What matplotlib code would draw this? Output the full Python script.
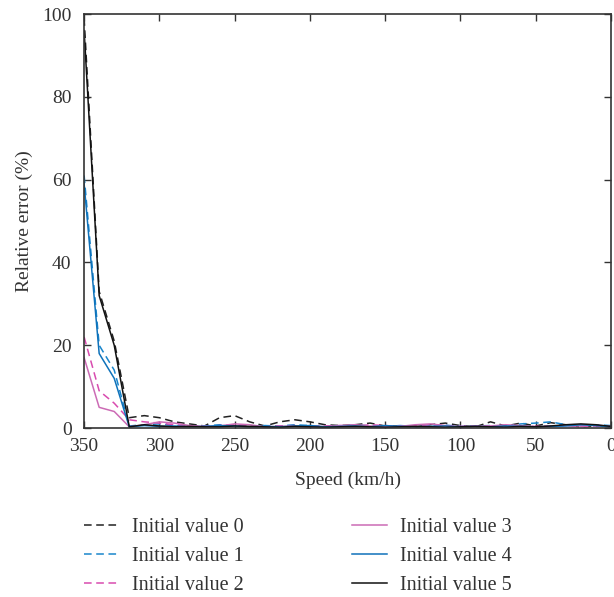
import numpy as np
import matplotlib.pyplot as plt

plt.rcParams['font.family'] = ['Liberation Serif', 'DejaVu Serif']

speed = np.arange(350, -1, -10)

err_v0 = [99, 33, 21, 2.5, 3.0, 2.5, 1.5, 1.0, 0.5, 2.5, 3.0, 1.5, 0.5, 1.5, 2.0, 1.5,
          0.8, 0.6, 0.8, 1.2, 0.5, 0.5, 0.3, 0.8, 1.2, 0.6, 0.3, 1.5, 0.5, 1.2, 0.5,
          1.3, 0.8, 0.3, 0.5, 0.3]
err_v1 = [61, 20, 14, 0.5, 0.8, 1.0, 0.6, 0.4, 0.5, 0.8, 0.5, 0.4, 0.6, 0.5, 0.8, 0.6,
          0.4, 0.5, 0.8, 0.5, 0.4, 0.6, 0.4, 0.5, 0.7, 0.4, 0.5, 0.6, 0.4, 1.0, 1.2,
          1.5, 0.8, 0.5, 0.8, 0.6]
err_v2 = [22, 9, 6, 2.0, 1.5, 1.2, 0.8, 0.5, 0.4, 0.6, 0.8, 0.5, 0.3, 0.5, 0.6, 0.4,
          0.5, 0.6, 0.4, 0.8, 0.6, 0.4, 0.5, 0.8, 0.6, 0.4, 0.5, 0.4, 0.3, 0.5, 0.4,
          0.5, 0.6, 0.4, 0.5, 0.3]
err_v3 = [17, 5, 4, 0.3, 0.8, 1.5, 1.2, 0.6, 0.4, 0.5, 1.0, 0.8, 0.3, 0.4, 0.5, 0.3,
          0.4, 0.6, 0.8, 0.5, 0.3, 0.4, 0.8, 1.0, 0.6, 0.3, 0.4, 0.5, 0.8, 0.6, 0.3,
          0.4, 0.6, 0.5, 0.7, 0.4]
err_v4 = [59, 18, 12, 0.3, 0.6, 0.4, 0.5, 0.3, 0.4, 0.6, 0.5, 0.3, 0.4, 0.3, 0.5, 0.6,
          0.3, 0.4, 0.5, 0.3, 0.6, 0.4, 0.3, 0.4, 0.5, 0.3, 0.4, 0.3, 0.5, 0.4, 0.3,
          0.4, 0.5, 0.8, 0.6, 0.3]
err_v5 = [96, 32, 20, 0.3, 0.8, 0.5, 0.3, 0.4, 0.3, 0.3, 0.5, 0.4, 0.3, 0.2, 0.4, 0.3,
          0.2, 0.3, 0.4, 0.3, 0.2, 0.3, 0.4, 0.3, 0.2, 0.3, 0.4, 0.3, 0.2, 0.4, 0.3,
          0.5, 0.8, 1.0, 0.8, 0.4]

series = [
    ('Initial value 0', err_v0, '#222222', (0, (5, 3))),
    ('Initial value 1', err_v1, '#1A86CC', (0, (5, 3))),
    ('Initial value 2', err_v2, '#D94BAF', (0, (5, 3))),
    ('Initial value 3', err_v3, '#CC6BB5', '-'),
    ('Initial value 4', err_v4, '#0F72BA', '-'),
    ('Initial value 5', err_v5, '#111111', '-'),
]

fig = plt.figure(figsize=(6.14, 5.97), dpi=100)
ax = fig.add_axes([0.137, 0.283, 0.858, 0.6935])

for name, vals, col, ls in series:
    ax.plot(speed, vals, color=col, linestyle=ls, linewidth=1.1, label=name)

ax.set_xlim(350, 0)
ax.set_ylim(0, 100)
ax.set_xticks([350, 300, 250, 200, 150, 100, 50, 0])
ax.set_yticks([0, 20, 40, 60, 80, 100])
ax.tick_params(direction='in', top=True, right=True, length=5,
               labelsize=14, colors='#333333', width=1)
ax.tick_params(axis='x', pad=7)
ax.tick_params(axis='y', pad=9)
for s in ax.spines.values():
    s.set_color('#333333')
    s.set_linewidth(1.2)

ax.set_xlabel('Speed (km/h)', fontsize=14, color='#333333', labelpad=12)
ax.set_ylabel('Relative error (%)', fontsize=14, color='#333333', labelpad=6.5)

leg = fig.legend(loc='upper left', bbox_to_anchor=(0.121, 0.150), ncol=2,
                 frameon=False, fontsize=14.5, handlelength=1.75, borderpad=0,
                 columnspacing=5.4, labelspacing=0.5, handletextpad=0.6)
for t in leg.get_texts():
    t.set_color('#333333')

fig.savefig('out.png', dpi=100)
